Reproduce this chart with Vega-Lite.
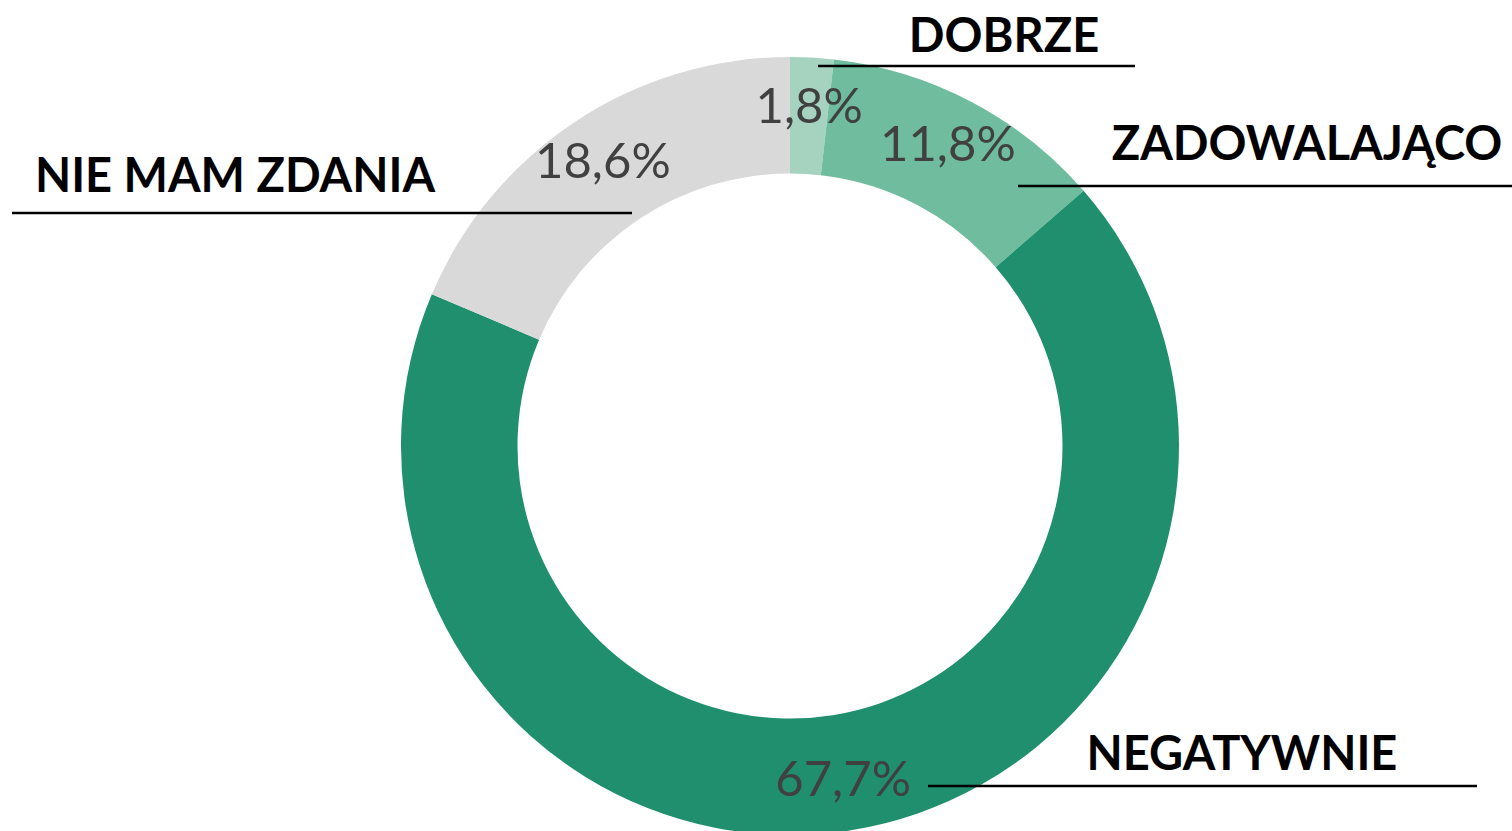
{
  "$schema": "https://vega.github.io/schema/vega-lite/v6.json",
  "width": 1444,
  "height": 770,
  "autosize": {"type": "none"},
  "padding": {"left": 68, "top": 61, "right": 0, "bottom": 0},
  "background": "white",
  "config": {"view": {"stroke": null}},
  "datasets": {
    "slices": [
      {"kategoria": "DOBRZE", "procent": 1.8, "etykieta": "1,8%", "kolej": 1},
      {"kategoria": "ZADOWALAJĄCO", "procent": 11.8, "etykieta": "11,8%", "kolej": 2},
      {"kategoria": "NEGATYWNIE", "procent": 67.7, "etykieta": "67,7%", "kolej": 3},
      {"kategoria": "NIE MAM ZDANIA", "procent": 18.6, "etykieta": "18,6%", "kolej": 4}
    ],
    "callouts": [
      {"kategoria": "DOBRZE", "lx1": 28, "lx2": 345, "ly": 380, "tx": 214, "ty": 394},
      {"kategoria": "ZADOWALAJĄCO", "lx1": 228, "lx2": 722, "ly": 260, "tx": 517, "ty": 286},
      {"kategoria": "NIE MAM ZDANIA", "lx1": -778, "lx2": -158, "ly": 233, "tx": -555, "ty": 254},
      {"kategoria": "NEGATYWNIE", "lx1": 138, "lx2": 687, "ly": -340, "tx": 452, "ty": -324}
    ]
  },
  "layer": [
    {
      "data": {"name": "slices"},
      "mark": {"type": "arc", "innerRadius": 272.5, "outerRadius": 389},
      "encoding": {
        "theta": {"field": "procent", "type": "quantitative", "stack": true},
        "order": {"field": "kolej", "type": "quantitative"},
        "color": {
          "field": "kategoria",
          "type": "nominal",
          "scale": {
            "domain": ["DOBRZE", "ZADOWALAJĄCO", "NEGATYWNIE", "NIE MAM ZDANIA"],
            "range": ["#a6d3bf", "#70bc9f", "#1f8f6e", "#d9d9d9"]
          },
          "legend": null
        }
      }
    },
    {
      "data": {"name": "slices"},
      "mark": {"type": "text", "radius": 339, "font": "Lato", "fontWeight": 400, "fontSize": 49, "fill": "#404040", "align": "center", "baseline": "middle"},
      "encoding": {
        "theta": {"field": "procent", "type": "quantitative", "stack": true},
        "order": {"field": "kolej", "type": "quantitative"},
        "text": {"field": "etykieta", "type": "nominal"}
      }
    },
    {
      "data": {"name": "callouts"},
      "mark": {"type": "rule", "stroke": "#000000", "strokeWidth": 2.5, "clip": false},
      "encoding": {
        "x": {"field": "lx1", "type": "quantitative", "scale": {"domain": [-722, 722], "nice": false, "zero": false}, "axis": null},
        "x2": {"field": "lx2"},
        "y": {"field": "ly", "type": "quantitative", "scale": {"domain": [-385, 385], "nice": false, "zero": false}, "axis": null}
      }
    },
    {
      "data": {"name": "callouts"},
      "mark": {"type": "text", "font": "Lato", "fontWeight": "bold", "fontSize": 47, "fill": "#000000", "align": "center", "baseline": "alphabetic"},
      "encoding": {
        "x": {"field": "tx", "type": "quantitative", "scale": {"domain": [-722, 722], "nice": false, "zero": false}, "axis": null},
        "y": {"field": "ty", "type": "quantitative", "scale": {"domain": [-385, 385], "nice": false, "zero": false}, "axis": null},
        "text": {"field": "kategoria", "type": "nominal"}
      }
    }
  ]
}
